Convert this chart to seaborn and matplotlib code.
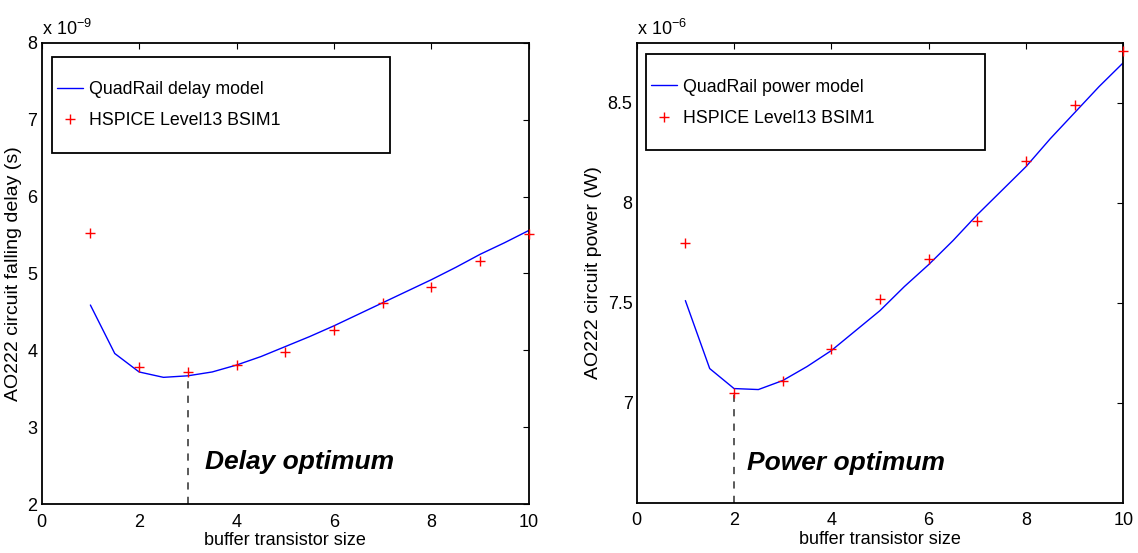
import numpy as np
import pandas as pd
import matplotlib
matplotlib.use("Agg")
import matplotlib.pyplot as plt
from matplotlib.patches import Rectangle
from matplotlib.lines import Line2D
import seaborn as sns

# ---------------- data ----------------
# model curves (x in buffer transistor size)
model_x = [1, 1.5, 2, 2.5, 3, 3.5, 4, 4.5, 5, 5.5, 6, 6.5, 7, 7.5, 8, 8.5, 9, 9.5, 10]
delay_model = [4.59, 3.96, 3.72, 3.65, 3.67, 3.72, 3.81, 3.92, 4.05, 4.18, 4.32,
               4.47, 4.62, 4.77, 4.92, 5.08, 5.25, 5.40, 5.56]          # x 1e-9 s
power_model = [7.51, 7.17, 7.07, 7.065, 7.11, 7.18, 7.26, 7.36, 7.46, 7.58, 7.69,
               7.81, 7.94, 8.06, 8.18, 8.32, 8.45, 8.58, 8.70]          # x 1e-6 W

# HSPICE simulation points
sim_x = [1, 2, 3, 4, 5, 6, 7, 8, 9, 10]
delay_sim = [5.52, 3.78, 3.72, 3.81, 3.98, 4.26, 4.61, 4.83, 5.16, 5.51]
power_sim = [7.80, 7.05, 7.11, 7.27, 7.52, 7.72, 7.91, 8.21, 8.486, 8.756]

delay_opt_x, delay_opt_y = 3, 3.67
power_opt_x, power_opt_y = 2, 7.07

x_ticks = [0, 2, 4, 6, 8, 10]
delay_yticks = [2, 3, 4, 5, 6, 7, 8]
power_yticks = [7, 7.5, 8, 8.5]
power_yticklabels = ["7", "7.5", "8", "8.5"]

model_label_delay = "QuadRail delay model"
model_label_power = "QuadRail power model"
sim_label = "HSPICE Level13 BSIM1"
# --------------------------------------

sns.set_theme(style="white")
plt.rcParams["font.family"] = ["Liberation Sans", "DejaVu Sans"]
plt.rcParams["mathtext.fontset"] = "custom"
plt.rcParams["mathtext.rm"] = "Liberation Sans"
plt.rcParams["mathtext.it"] = "Liberation Sans:italic"
for k in ["text.color", "axes.labelcolor", "xtick.color", "ytick.color"]:
    plt.rcParams[k] = "black"

fig = plt.figure(figsize=(11.38, 5.53), dpi=100)
fig.patch.set_facecolor("white")

ax1 = fig.add_axes([0.0366, 0.0881, 0.4282, 0.8347])
ax2 = fig.add_axes([0.5595, 0.0913, 0.4276, 0.8315])


def draw(ax, ymodel, ysim, model_label, ylim, yticks, yticklabels, ylabel,
         opt_x, opt_y, opt_text, opt_text_xy, expo, leg_box, leg_anchor):
    df_m = pd.DataFrame({"x": model_x, "y": ymodel})
    df_s = pd.DataFrame({"x": sim_x, "y": ysim})
    sns.lineplot(data=df_m, x="x", y="y", ax=ax, color="#0000ff", lw=1.0)
    sns.scatterplot(data=df_s, x="x", y="y", ax=ax, marker="+", color="#ff0000",
                    s=50, linewidth=1.0, clip_on=False, zorder=5)
    ax.plot([opt_x, opt_x], [ylim[0], opt_y], color="#4d4d4d", lw=1.3,
            dashes=(4, 4))
    ax.set_xlim(0, 10)
    ax.set_ylim(*ylim)
    ax.set_xticks(x_ticks)
    ax.set_xticklabels([str(t) for t in x_ticks])
    ax.set_yticks(yticks)
    ax.set_yticklabels(yticklabels)
    ax.tick_params(direction="in", top=True, right=True, length=4, width=0.8,
                   labelsize=13, colors="black", pad=3)
    ax.tick_params(axis="x", pad=7)
    for sp in ax.spines.values():
        sp.set_color("black")
        sp.set_linewidth(1.3)
    ax.set_xlabel("buffer transistor size", fontsize=13, labelpad=1)
    ax.set_ylabel(ylabel, fontsize=14, labelpad=4)
    ax.text(opt_text_xy[0], opt_text_xy[1], opt_text, fontsize=19,
            fontweight="bold", fontstyle="italic", va="center", ha="left",
            color="black")
    ax.text(0.0, 1.008, r"x 10$^{%d}$" % expo, transform=ax.transAxes,
            fontsize=13, ha="left", va="bottom")
    # legend frame
    ax.add_patch(Rectangle((leg_box[0], leg_box[1]), leg_box[2], leg_box[3],
                           transform=ax.transAxes, fill=False, edgecolor="black",
                           lw=1.3, zorder=6))
    handles = [Line2D([], [], color="#0000ff", lw=1.0),
               Line2D([], [], color="#ff0000", marker="+", ls="none",
                      markersize=7, markeredgewidth=1.0)]
    ax.legend(handles, [model_label, sim_label], loc="upper left",
              bbox_to_anchor=leg_anchor, frameon=False, fontsize=12.8,
              borderpad=0, borderaxespad=0, handlelength=1.5,
              handletextpad=0.3, labelspacing=0.8)


draw(ax1, delay_model, delay_sim, model_label_delay, (2, 8), delay_yticks,
     [str(t) for t in delay_yticks], "AO222 circuit falling delay (s)",
     delay_opt_x, delay_opt_y, "Delay optimum", (3.35, 2.55), -9,
     (0.021, 0.761, 0.694, 0.208), (0.031, 0.917))
draw(ax2, power_model, power_sim, model_label_power, (6.5, 8.8), power_yticks,
     power_yticklabels, "AO222 circuit power (W)",
     power_opt_x, power_opt_y, "Power optimum", (2.27, 6.70), -6,
     (0.019, 0.767, 0.697, 0.208), (0.029, 0.922))

fig.savefig("out.png", dpi=100, facecolor="white")
